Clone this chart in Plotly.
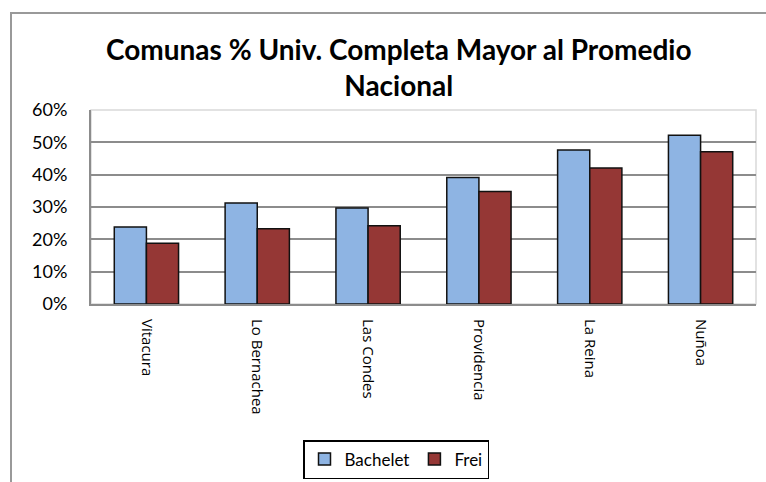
import plotly.graph_objects as go

comunas = ["Vitacura", "Lo Bernachea", "Las Condes", "Providencia", "La Reina", "Nuñoa"]
bachelet = [0.238, 0.312, 0.297, 0.391, 0.476, 0.522]
frei = [0.188, 0.233, 0.242, 0.348, 0.421, 0.471]

FONT = "Lato"

fig = go.Figure()

# Bachelet
fig.add_trace(
    go.Bar(
        x=comunas,
        y=bachelet,
        name="Bachelet",
        marker=dict(color="#8EB4E3", line=dict(color="#111111", width=1.5))
    )
)

# Frei
fig.add_trace(
    go.Bar(
        x=comunas,
        y=frei,
        name="Frei",
        marker=dict(color="#953735", line=dict(color="#111111", width=1.5))
    )
)

fig.update_layout(
    width=766,
    height=482,
    margin=dict(l=91, r=10, t=110, b=178),
    paper_bgcolor="white",
    plot_bgcolor="white",
    barmode="group",
    bargap=0.42,
    bargroupgap=0,
    font=dict(family=FONT, color="#000000"),
    legend=dict(
        orientation="h",
        x=396 / 766,
        xanchor="center",
        xref="container",
        y=(482 - 440) / 482,
        yref="container",
        yanchor="top",
        bordercolor="#000000",
        borderwidth=1.5,
        font=dict(family=FONT, size=17),
        itemwidth=30,
        traceorder="normal"
    ),
    showlegend=True,
    shapes=[
        # plot area frame
        dict(type="rect", xref="paper", yref="paper", x0=0, x1=1, y0=0, y1=1,
             line=dict(color="#d9d9d9", width=1.5), layer="below"),
        # outer chart border (cropped at right and bottom)
        dict(type="rect", xref="paper", yref="paper",
             x0=(11 - 91) / 665, x1=1.6, y0=-2.0, y1=(304 - 13) / 194,
             line=dict(color="#999999", width=2))
    ]
)

# title as an annotation so that both lines sit where they should
fig.add_annotation(
    text="<b>Comunas % Univ. Completa Mayor al Promedio<br>Nacional</b>",
    xref="paper",
    yref="paper",
    x=(398 - 91) / 665,
    y=(304 - 30) / 194,
    xanchor="center",
    yanchor="top",
    showarrow=False,
    font=dict(family=FONT, size=28, color="#000000")
)

fig.update_xaxes(
    tickangle=90,
    tickfont=dict(family="Open Sans", size=15),
    showline=True,
    linecolor="#8c8c8c",
    linewidth=2,
    ticks="",
    ticklabelstandoff=10
)

fig.update_yaxes(
    range=[0, 0.6],
    dtick=0.1,
    tickformat=".0%",
    tickfont=dict(family=FONT, size=18),
    showgrid=True,
    gridcolor="#8c8c8c",
    gridwidth=1.5,
    showline=True,
    linecolor="#8c8c8c",
    linewidth=2,
    zeroline=False,
    ticks="",
    ticklabelstandoff=18
)

fig.write_html(
    "out.html",
    config={"displayModeBar": False},
    post_script="document.body.style.margin='0';"
)
